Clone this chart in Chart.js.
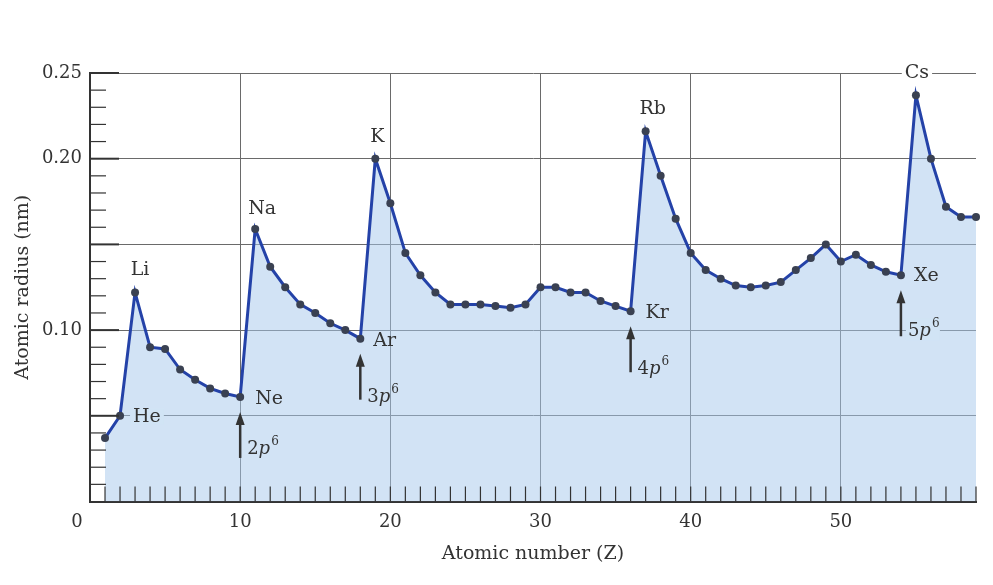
<!DOCTYPE html>
<html>
<head>
<meta charset="utf-8">
<script src="https://cdn.jsdelivr.net/npm/chart.js@4.4.1/dist/chart.umd.min.js"></script>
<style>
  html, body { margin: 0; padding: 0; background: #fff; }
  #wrap { width: 993px; height: 585px; }
</style>
</head>
<body>
<div id="wrap"><canvas id="myChart" width="993" height="585"></canvas></div>
<script>
// atomic number and radius (nm)
var atomicNumbers = [1, 2, 3, 4, 5, 6, 7, 8, 9, 10,
    11, 12, 13, 14, 15, 16, 17, 18, 19, 20,
    21, 22, 23, 24, 25, 26, 27, 28, 29, 30,
    31, 32, 33, 34, 35, 36, 37, 38, 39, 40,
    41, 42, 43, 44, 45, 46, 47, 48, 49, 50,
    51, 52, 53, 54, 55, 56, 57, 58, 59];
var radii = [0.037, 0.050, 0.122, 0.090, 0.089, 0.077, 0.071, 0.066, 0.063, 0.061,
    0.159, 0.137, 0.125, 0.115, 0.110, 0.104, 0.100, 0.095, 0.200, 0.174,
    0.145, 0.132, 0.122, 0.115, 0.115, 0.115, 0.114, 0.113, 0.115, 0.125,
    0.125, 0.122, 0.122, 0.117, 0.114, 0.111, 0.216, 0.190, 0.165, 0.145,
    0.135, 0.130, 0.126, 0.125, 0.126, 0.128, 0.135, 0.142, 0.150, 0.140,
    0.144, 0.138, 0.134, 0.132, 0.237, 0.200, 0.172, 0.166, 0.166];

var yLabelTicks = [0.10, 0.20, 0.25];
var xLabelTicks = [0, 10, 20, 30, 40, 50];

// element names shown next to points
var elementNames = ['He', 'Li', 'Ne', 'Na', 'Ar', 'K', 'Kr', 'Rb', 'Xe', 'Cs'];
var elementZ = [2, 3, 10, 11, 18, 19, 36, 37, 54, 55];

// filled p shells (arrows)
var shellZ = [10, 18, 36, 54];
var shellN = ['2', '3', '4', '5'];

var serif = "'DejaVu Serif', serif";
var textColor = '#333';

// label placement: [dx, dy, align, background]
var labelPlace = {
    He: [13, 1, 'left', 'rgba(209,228,245,1)'],
    Li: [5, -22, 'center', null],
    Ne: [15, 2, 'left', null],
    Na: [7, -20, 'center', null],
    Ar: [13, 2, 'left', null],
    K: [2, -22, 'center', null],
    Kr: [15, 2, 'left', null],
    Rb: [7, -22, 'center', null],
    Xe: [13, 1, 'left', null],
    Cs: [1, -22, 'center', '#fff']
};
var arrowPlace = { gap: 15, len: 46, textDy: [42, 48, 48, 46] };

var points = atomicNumbers.map(function(z, i) { return { x: z, y: radii[i] }; });

function isMajorY(v) { var r = Math.round(v * 100); return r > 0 && r % 5 === 0; }
function isMajorX(v) { return v > 0 && Math.round(v) % 10 === 0; }

var decor = {
    id: 'decor',
    afterDatasetsDraw: function(chart) {
        var ctx = chart.ctx, xs = chart.scales.x, ys = chart.scales.y, a = chart.chartArea;
        ctx.save();
        ctx.strokeStyle = '#333';
        // minor ticks on x axis (inside)
        ctx.lineWidth = 1.2;
        xs.ticks.forEach(function(t) {
            if (t.value <= 0) return;
            var px = xs.getPixelForValue(t.value);
            ctx.beginPath();
            ctx.moveTo(px, a.bottom);
            ctx.lineTo(px, a.bottom - 15);
            ctx.stroke();
        });
        // ticks on y axis (inside)
        ys.ticks.forEach(function(t) {
            if (t.value <= 0) return;
            var py = ys.getPixelForValue(t.value);
            var major = isMajorY(t.value);
            ctx.lineWidth = major ? 2 : 1.2;
            ctx.beginPath();
            ctx.moveTo(a.left, py);
            ctx.lineTo(a.left + (major ? 29 : 16), py);
            ctx.stroke();
        });
        ctx.restore();
    },
    afterDraw: function(chart) {
        var ctx = chart.ctx, xs = chart.scales.x, ys = chart.scales.y, a = chart.chartArea;
        ctx.save();
        ctx.fillStyle = textColor;
        ctx.textBaseline = 'middle';
        ctx.font = '18px ' + serif;

        // the "0" label sits left of the axis in the original
        ctx.textAlign = 'center';
        ctx.fillText('0', xs.getPixelForValue(0) - 13, a.bottom + 21);

        ctx.font = '19px ' + serif;
        elementNames.forEach(function(name, i) {
            var z = elementZ[i];
            var p = labelPlace[name];
            var px = xs.getPixelForValue(z) + p[0];
            var py = ys.getPixelForValue(radii[atomicNumbers.indexOf(z)]) + p[1];
            ctx.textAlign = p[2];
            if (p[3]) {
                var w = ctx.measureText(name).width;
                var x0 = p[2] === 'center' ? px - w / 2 : px;
                ctx.fillStyle = p[3];
                ctx.fillRect(x0 - 3, py - 8, w + 6, 16);
                ctx.fillStyle = textColor;
            }
            ctx.fillText(name, px, py);
        });

        shellZ.forEach(function(z, i) {
            var px = xs.getPixelForValue(z);
            var tip = ys.getPixelForValue(radii[atomicNumbers.indexOf(z)]) + arrowPlace.gap;
            ctx.strokeStyle = '#333';
            ctx.fillStyle = '#333';
            ctx.lineWidth = 2.5;
            ctx.beginPath();
            ctx.moveTo(px, tip + 8);
            ctx.lineTo(px, tip + arrowPlace.len);
            ctx.stroke();
            ctx.beginPath();
            ctx.moveTo(px, tip);
            ctx.lineTo(px - 4.5, tip + 13);
            ctx.lineTo(px + 4.5, tip + 13);
            ctx.closePath();
            ctx.fill();

            var tx = px + 7, ty = tip + arrowPlace.textDy[i];
            ctx.textAlign = 'left';
            ctx.textBaseline = 'alphabetic';
            ctx.font = '18px ' + serif;
            if (i === 3) {
                ctx.fillStyle = 'rgba(209,228,245,1)';
                ctx.fillRect(tx - 2, ty - 18, 34, 22);
                ctx.fillStyle = textColor;
            }
            ctx.fillStyle = textColor;
            ctx.fillText(shellN[i], tx, ty);
            var w = ctx.measureText(shellN[i]).width;
            ctx.font = 'italic 18px ' + serif;
            ctx.fillText('p', tx + w, ty);
            w += ctx.measureText('p').width;
            ctx.font = '12px ' + serif;
            ctx.fillText('6', tx + w + 1, ty - 9);
            ctx.textBaseline = 'middle';
            ctx.font = '19px ' + serif;
        });
        ctx.restore();
    }
};

var ctx = document.getElementById('myChart').getContext('2d');
var chart = new Chart(ctx, {
    type: 'line',
    data: {
        datasets: [{
            label: 'Atomic radius',
            data: points,
            borderColor: '#2442a8',
            borderWidth: 3,
            backgroundColor: 'rgba(165,200,235,0.5)',
            fill: 'origin',
            tension: 0,
            pointRadius: 4,
            pointBackgroundColor: '#3a4152',
            pointBorderWidth: 0,
            clip: false
        }]
    },
    options: {
        responsive: false,
        animation: false,
        events: [],
        layout: { padding: { left: 0, right: 17, top: 73, bottom: 0 } },
        plugins: {
            legend: { display: false },
            tooltip: { enabled: false }
        },
        scales: {
            x: {
                type: 'linear',
                min: 0,
                max: 59,
                afterFit: function(scale) { scale.height = 83.5; },
                afterBuildTicks: function(scale) {
                    var t = [];
                    for (var i = 0; i <= 59; i++) t.push({ value: i });
                    scale.ticks = t;
                },
                ticks: {
                    autoSkip: false,
                    maxRotation: 0,
                    padding: 10,
                    color: textColor,
                    font: { family: serif, size: 18 },
                    callback: function(v) {
                        return (xLabelTicks.indexOf(v) > 0) ? String(v) : '';
                    }
                },
                grid: {
                    drawTicks: false,
                    lineWidth: 1,
                    color: function(c) { return c.tick && isMajorX(c.tick.value) ? '#6a6a6a' : 'rgba(0,0,0,0)'; }
                },
                border: { display: true, color: '#333', width: 2 },
                title: {
                    display: true,
                    text: 'Atomic number (Z)',
                    color: textColor,
                    font: { family: serif, size: 19 },
                    padding: { top: 0, bottom: 20 }
                }
            },
            y: {
                min: 0,
                max: 0.25,
                afterFit: function(scale) { scale.width = 90; },
                ticks: {
                    stepSize: 0.01,
                    autoSkip: false,
                    padding: 8,
                    color: textColor,
                    font: { family: serif, size: 18 },
                    callback: function(v) {
                        var r = Math.round(v * 100);
                        for (var i = 0; i < yLabelTicks.length; i++) {
                            if (Math.round(yLabelTicks[i] * 100) === r) return yLabelTicks[i].toFixed(2);
                        }
                        return '';
                    }
                },
                grid: {
                    drawTicks: false,
                    lineWidth: 1,
                    color: function(c) { return c.tick && isMajorY(c.tick.value) ? '#6a6a6a' : 'rgba(0,0,0,0)'; }
                },
                border: { display: true, color: '#333', width: 2 },
                title: {
                    display: true,
                    text: 'Atomic radius (nm)',
                    color: textColor,
                    font: { family: serif, size: 19 },
                    padding: { top: 12, bottom: 0 }
                }
            }
        }
    },
    plugins: [decor]
});
</script>
</body>
</html>
